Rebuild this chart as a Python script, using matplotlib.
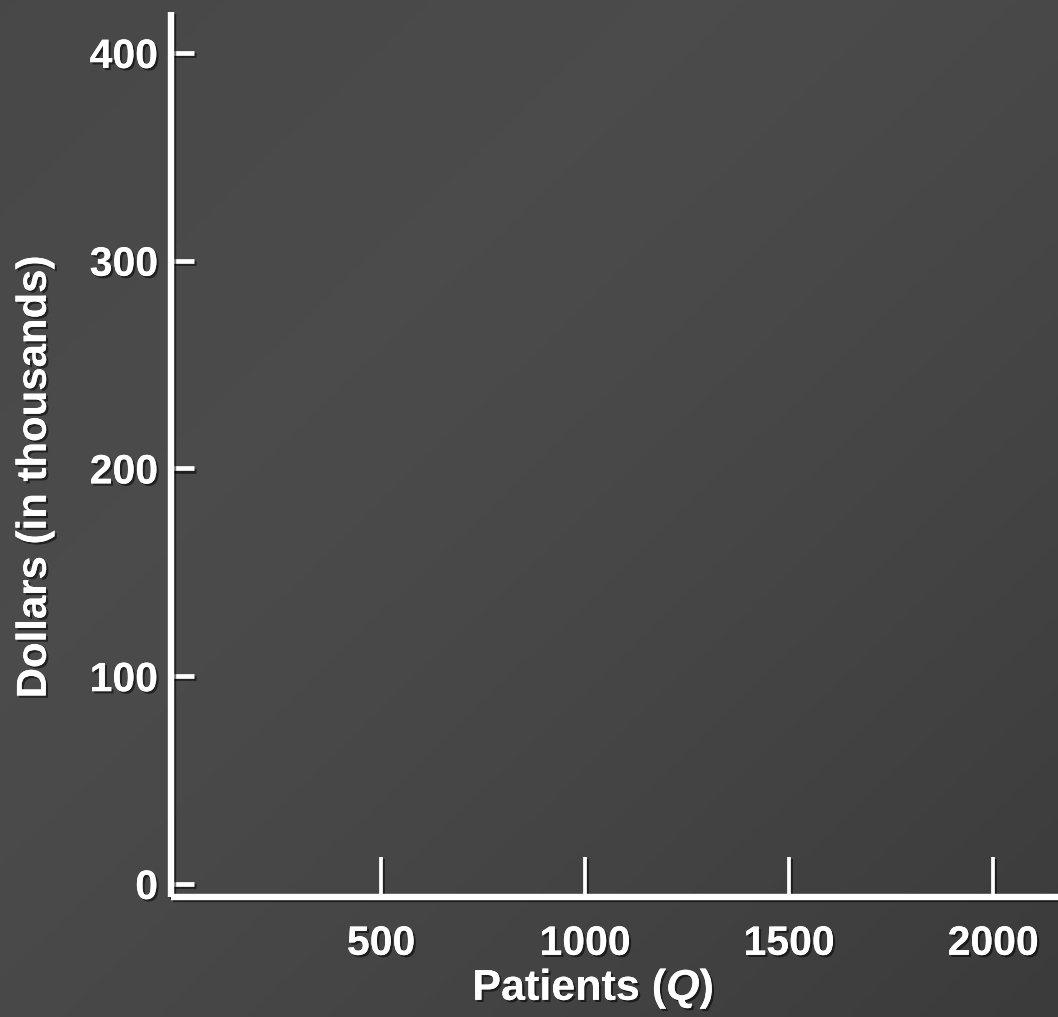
import numpy as np
import matplotlib
matplotlib.use("Agg")
import matplotlib.pyplot as plt
import matplotlib.patheffects as pe

plt.rcParams['font.family'] = ['Liberation Sans', 'DejaVu Sans']
plt.rcParams['font.weight'] = 'bold'
plt.rcParams['mathtext.fontset'] = 'custom'
plt.rcParams['mathtext.it'] = 'Liberation Sans:bold:italic'
plt.rcParams['mathtext.rm'] = 'Liberation Sans:bold'

# Data (axes only, no series)
x_ticks = [500, 1000, 1500, 2000]
x_tick_labels = ["500", "1000", "1500", "2000"]
y_ticks = [0, 100, 200, 300, 400]
y_tick_labels = ["0", "100", "200", "300", "400"]
x_label = "Patients ($Q$)"
y_label = "Dollars (in thousands)"
x_limits = (-16, 2159)
y_limits = (-6.3, 419.7)

W, H = 1058, 1017
fig = plt.figure(figsize=(W / 100, H / 100), dpi=100)

# gradient background
bg = fig.add_axes([0, 0, 1, 1], zorder=-10)
yy, xx = np.mgrid[0:1:200j, 0:1:200j]
t = (xx + yy) / 2.0
light = 0x4b / 255.0
dark = 0x3b / 255.0
val = light - (light - dark) * np.clip((t - 0.35) / 0.65, 0, 1) ** 1.3
val = val - 0.012 * np.clip((0.3 - t) / 0.3, 0, 1)
img = np.dstack([val, val, val])
bg.imshow(img, extent=[0, 1, 0, 1], aspect='auto', origin='upper')
bg.set_axis_off()

ax = fig.add_axes([170.5 / W, (H - 897) / H, (W - 170.5) / W, (897 - 12) / H])
ax.set_facecolor('none')
ax.set_xlim(*x_limits)
ax.set_ylim(*y_limits)

text_shadow = [pe.withSimplePatchShadow(offset=(1.6, -1.6), shadow_rgbFace='black', alpha=0.55),
               pe.Normal()]
line_shadow = [pe.SimpleLineShadow(offset=(1.6, -1.6), shadow_color='black', alpha=0.55),
               pe.Normal()]

for side in ['top', 'right']:
    ax.spines[side].set_visible(False)
for side in ['left', 'bottom']:
    ax.spines[side].set_color('white')
    ax.spines[side].set_linewidth(4.6)
    ax.spines[side].set_path_effects(line_shadow)
    ax.spines[side].set_capstyle('butt')

ax.set_xticks(x_ticks)
ax.set_xticklabels(x_tick_labels)
ax.set_yticks(y_ticks)
ax.set_yticklabels(y_tick_labels)

ax.tick_params(axis='x', direction='in', length=29, width=2.7, color='white',
               labelcolor='white', labelsize=29.5, pad=20)
ax.tick_params(axis='y', direction='in', length=17, width=3.4, color='white',
               labelcolor='white', labelsize=29.5, pad=9)

for tick in ax.xaxis.get_major_ticks() + ax.yaxis.get_major_ticks():
    tick.tick1line.set_path_effects(line_shadow)
    tick.label1.set_path_effects(text_shadow)
    tick.label1.set_fontweight('bold')

ax.set_xlabel(x_label, color='white', fontsize=31, fontweight='bold', va='baseline')
ax.xaxis.set_label_coords(0.476, -0.1164)
ax.xaxis.label.set_path_effects(text_shadow)

ax.set_ylabel(y_label, color='white', fontsize=30.2, fontweight='bold', va='baseline')
ax.yaxis.set_label_coords(-0.1405, 0.4745)
ax.yaxis.label.set_path_effects(text_shadow)

fig.savefig("out.png", dpi=100)
